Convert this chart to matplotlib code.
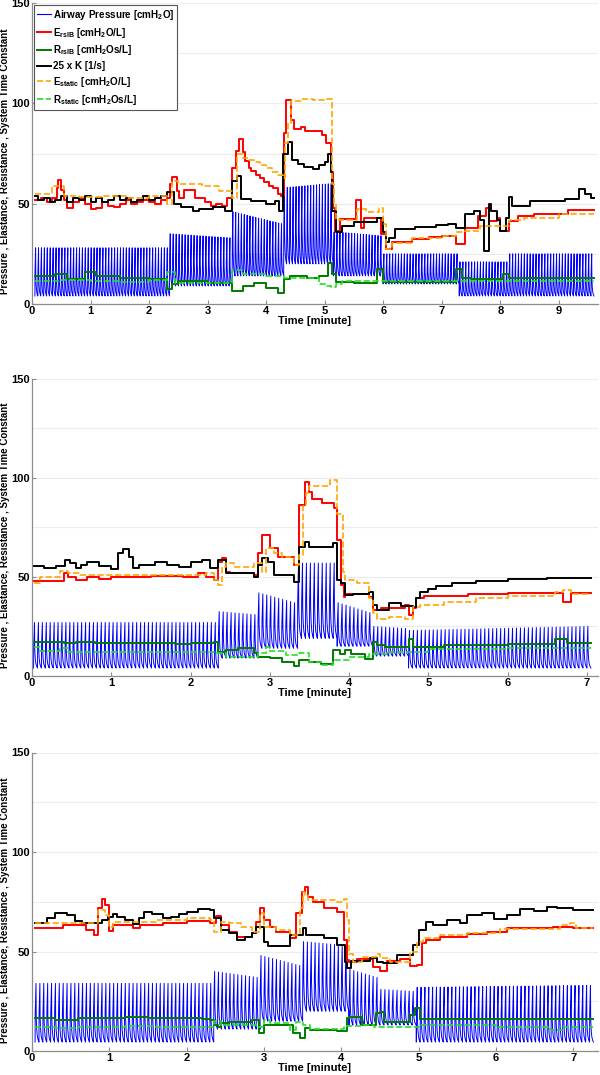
import numpy as np
import matplotlib
matplotlib.use("Agg")
import matplotlib.pyplot as plt
from matplotlib.lines import Line2D

# ---- data (time [min], value) ----
# step series are drawn with steps-post, the last point closes the trace

# panel 1
P1_E_RSIB = [(0.05, 52), (0.15, 53), (0.25, 51), (0.35, 53), (0.42, 58), (0.45, 62), (0.5, 57), (0.55, 52),
             (0.6, 48), (0.7, 51), (0.8, 53), (0.9, 50), (1.0, 47.5), (1.1, 48), (1.2, 51), (1.3, 49),
             (1.4, 48.5), (1.5, 50), (1.6, 52), (1.7, 50), (1.8, 51), (1.9, 52), (2.0, 51), (2.1, 50),
             (2.2, 52), (2.3, 53), (2.35, 60), (2.4, 63.5), (2.47, 56.5), (2.52, 53), (2.6, 57), (2.78, 53),
             (2.95, 51), (3.05, 49), (3.15, 50), (3.25, 49), (3.33, 53), (3.42, 68), (3.48, 76.5), (3.53, 82.3),
             (3.6, 76), (3.64, 71.5), (3.7, 68), (3.75, 66.5), (3.82, 64.5), (3.9, 63), (3.97, 61), (4.05, 59),
             (4.12, 58), (4.2, 55), (4.25, 54), (4.3, 85), (4.34, 101.8), (4.43, 91.5), (4.48, 87.4), (4.6, 88),
             (4.67, 86), (4.95, 84.2), (5.02, 80), (5.1, 66), (5.15, 48), (5.18, 36.5), (5.26, 42.5), (5.54, 52),
             (5.62, 38), (5.68, 43), (5.97, 35), (6.05, 27.5), (6.15, 30.7), (6.5, 32.5), (6.78, 33.5), (7.0, 34),
             (7.25, 30), (7.4, 38), (7.62, 44), (7.75, 47.8), (7.8, 41.5), (7.95, 43), (8.0, 36.5), (8.15, 41.5),
             (8.3, 44), (8.57, 45), (9.15, 47), (9.6, 47)]
P1_K25 = [(0.05, 54), (0.1, 52), (0.2, 53), (0.3, 51), (0.4, 52), (0.5, 54), (0.6, 51), (0.7, 53), (0.8, 52),
          (0.9, 54), (1.0, 51), (1.1, 53), (1.2, 51), (1.3, 52), (1.4, 54), (1.5, 52), (1.6, 53), (1.7, 51),
          (1.8, 52), (1.9, 54), (2.0, 52), (2.1, 53), (2.2, 54), (2.3, 55.7), (2.42, 50), (2.55, 48.3),
          (2.75, 46.5), (2.85, 47.5), (3.1, 48.3), (3.3, 46.5), (3.42, 61.5), (3.5, 64), (3.57, 52.5),
          (3.75, 51.5), (4.0, 49.8), (4.15, 51.5), (4.22, 46.5), (4.29, 75), (4.38, 80.7), (4.45, 72),
          (4.55, 70), (4.65, 68.5), (4.8, 67.5), (4.9, 69.5), (5.0, 71), (5.05, 75), (5.1, 66), (5.13, 46.5),
          (5.2, 36), (5.3, 39), (5.5, 40.7), (5.9, 43), (6.0, 35.7), (6.05, 30.8), (6.1, 33), (6.2, 37.5),
          (6.55, 38.5), (6.9, 39.5), (7.1, 40), (7.25, 38), (7.4, 45), (7.55, 46.5), (7.65, 42), (7.72, 26.5),
          (7.8, 50), (7.85, 46.5), (7.95, 42), (8.0, 36.5), (8.1, 43), (8.15, 53.5), (8.2, 49), (8.5, 51.5),
          (9.1, 52.5), (9.35, 57.5), (9.45, 55), (9.55, 53), (9.6, 53)]
P1_E_STATIC = [(0.05, 55), (0.35, 59), (0.55, 54), (0.8, 53.5), (1.2, 54), (1.6, 53), (2.0, 54), (2.3, 50),
               (2.4, 61.5), (2.5, 60), (2.9, 59), (3.2, 56.5), (3.42, 53), (3.5, 75), (3.6, 73), (3.7, 72),
               (3.8, 71), (3.9, 69.5), (4.0, 68), (4.1, 66), (4.2, 64.5), (4.28, 63), (4.32, 80), (4.38, 90),
               (4.43, 101), (4.6, 102), (4.8, 101.5), (5.0, 102), (5.12, 60), (5.16, 50), (5.2, 42), (5.55, 47.5),
               (5.7, 46), (5.93, 48), (6.0, 40), (6.05, 27.5), (6.15, 30.3), (6.5, 33), (7.0, 34), (7.25, 35.7),
               (7.4, 36.5), (7.65, 39), (8.15, 42), (8.4, 43), (9.0, 45), (9.6, 45)]
P1_R_RSIB = [(0.05, 14), (0.4, 15), (0.6, 12.5), (0.9, 15.8), (1.1, 14), (1.5, 13), (2.0, 12.5), (2.3, 7.3),
             (2.4, 10), (2.5, 11.5), (3.0, 10.7), (3.42, 6.5), (3.6, 9), (3.8, 10.7), (4.0, 8.2), (4.2, 5.7),
             (4.3, 12.3), (4.4, 13.9), (4.7, 13), (4.9, 14), (5.05, 20.6), (5.12, 15), (5.2, 11), (5.5, 10.5),
             (5.9, 17.5), (6.0, 11), (7.25, 17.5), (7.35, 13), (7.5, 12.5), (8.05, 15), (8.15, 12.8), (9.6, 12.8)]
P1_R_STATIC = [(0.05, 11.5), (0.5, 12), (1.0, 11.5), (1.5, 11), (2.0, 12), (2.3, 15.8), (2.45, 10.7),
               (3.42, 16.7), (3.6, 15), (4.0, 14), (4.3, 13), (4.9, 10), (5.0, 9), (5.1, 8.5), (5.2, 10),
               (5.3, 11.5), (9.6, 11.5)]
# airway pressure: (start, end, first peak, last peak, PEEP)
P1_PAW = [(0.05, 2.35, 28, 28, 4), (2.35, 3.42, 35, 33, 9), (3.42, 4.3, 46, 40, 14), (4.3, 5.15, 58, 60, 20),
          (5.15, 6.0, 36, 34, 14), (6.0, 7.3, 25, 25, 10), (7.3, 8.15, 21, 21, 4), (8.15, 9.6, 25, 25, 4)]

# panel 2
P2_E_RSIB = [(0.02, 48.2), (0.4, 51.8), (0.45, 50), (0.55, 48.5), (0.7, 50), (0.85, 48.8), (1.0, 49.9),
             (1.5, 50.5), (1.9, 50), (2.1, 51.8), (2.2, 50), (2.3, 48.5), (2.35, 57.7), (2.4, 59.4), (2.45, 52.7),
             (2.5, 51.8), (2.8, 51), (2.85, 62), (2.9, 71.2), (3.0, 64.4), (3.1, 60.2), (3.3, 56), (3.37, 86.4),
             (3.45, 98), (3.5, 93), (3.53, 89.6), (3.66, 87.5), (3.81, 84.6), (3.85, 68.7), (3.9, 46), (3.93, 40),
             (3.95, 41.4), (4.25, 40), (4.3, 33.3), (4.4, 34.2), (4.7, 35.8), (4.75, 30.8), (4.8, 34.2),
             (4.85, 39.2), (4.95, 40.4), (5.5, 41.4), (6.0, 41.7), (6.7, 37.5), (6.8, 41.7), (7.05, 41.7)]
P2_K25 = [(0.02, 55.6), (0.15, 54.3), (0.3, 55.6), (0.42, 58.6), (0.48, 57), (0.55, 54.3), (0.62, 56),
          (0.7, 57.3), (0.85, 55.6), (1.0, 53.9), (1.08, 62), (1.15, 64), (1.22, 60.2), (1.28, 54.3), (1.35, 56),
          (1.55, 57.3), (1.7, 56), (1.85, 55.2), (2.0, 57.3), (2.15, 58.6), (2.25, 54.3), (2.35, 58.6),
          (2.45, 51.8), (2.8, 50), (2.85, 56), (2.9, 59.4), (2.98, 57.7), (3.05, 51), (3.3, 47.6), (3.37, 65.3),
          (3.44, 67.8), (3.5, 65), (3.8, 67), (3.85, 48.5), (3.9, 46.8), (3.95, 41), (4.05, 41.4), (4.25, 42.6),
          (4.3, 35.8), (4.35, 33.3), (4.5, 36.7), (4.65, 35.3), (4.8, 35), (4.85, 39.2), (4.9, 42.6),
          (5.0, 43.7), (5.1, 45.4), (5.3, 46.8), (5.6, 48.2), (6.0, 48.8), (6.5, 49.5), (7.05, 49.5)]
P2_E_STATIC = [(0.02, 46.8), (0.1, 50), (0.35, 53.2), (0.45, 51.8), (0.6, 51), (2.2, 51.8), (2.3, 48.5),
               (2.35, 46), (2.4, 55.2), (2.45, 57), (2.55, 55.2), (2.8, 57), (2.9, 52.7), (2.95, 64.4),
               (3.05, 62), (3.15, 60.2), (3.3, 56), (3.37, 61), (3.42, 85.6), (3.46, 92.4), (3.5, 95.7),
               (3.76, 99), (3.85, 82), (3.92, 52.7), (3.95, 48.5), (4.1, 46.8), (4.25, 39.2), (4.3, 31.6),
               (4.35, 29), (4.5, 30), (4.7, 28.6), (4.8, 35), (4.9, 35.8), (5.2, 37.5), (5.6, 39.2), (6.0, 40.4),
               (6.6, 42.6), (6.7, 43.4), (6.8, 41.4), (7.05, 41.4)]
P2_R_RSIB = [(0.02, 17.3), (0.4, 16.5), (0.55, 17.3), (0.8, 16.8), (1.8, 16.2), (2.0, 16.8), (2.3, 17.3),
             (2.35, 12.3), (2.45, 13), (2.6, 14), (2.8, 11.5), (2.85, 9.8), (3.0, 9), (3.15, 7.3), (3.3, 4.8),
             (3.37, 8), (3.5, 7), (3.65, 6), (3.8, 13), (3.88, 11.3), (3.95, 13), (4.03, 11.3), (4.2, 8.8),
             (4.3, 17.3), (4.35, 15.6), (4.45, 14.7), (4.75, 18.9), (4.8, 14.7), (5.2, 15.6), (6.0, 16.2),
             (6.6, 18.9), (6.75, 16.4), (6.85, 16.8), (7.05, 16.8)]
P2_R_STATIC = [(0.02, 14.7), (0.1, 12.7), (0.35, 14), (0.45, 11.9), (0.6, 12.3), (2.3, 11.5), (2.45, 9.8),
               (2.85, 11.5), (2.95, 14.7), (3.0, 12.7), (3.2, 10.6), (3.37, 11.5), (3.5, 7), (3.65, 5.6),
               (3.8, 8.1), (4.0, 9.8), (4.25, 11.1), (4.5, 12.3), (5.0, 13.5), (6.0, 14), (7.05, 14)]
P2_PAW = [(0.02, 2.35, 27, 27, 4), (2.35, 2.85, 32.5, 31, 9), (2.85, 3.35, 42, 37, 14), (3.35, 3.85, 57, 57, 19),
          (3.85, 4.3, 37, 32, 15), (4.3, 4.75, 25, 24, 10), (4.75, 7.05, 23, 25, 4)]

# panel 3
P3_E_RSIB = [(0.04, 61.6), (0.4, 63.3), (0.7, 60.8), (0.8, 58.3), (0.85, 72), (0.9, 76.6), (0.95, 73.3),
             (1.0, 60.5), (1.05, 63.3), (1.3, 61.6), (1.4, 63.3), (1.7, 64.5), (2.0, 65.3), (2.3, 64.2),
             (2.38, 67.9), (2.45, 63.3), (2.55, 60), (2.65, 57.5), (2.85, 59.2), (2.9, 65), (2.95, 71.7),
             (3.0, 65.8), (3.08, 62.4), (3.16, 60), (3.34, 56.6), (3.42, 69.2), (3.49, 80), (3.53, 82.6),
             (3.57, 77.5), (3.64, 75), (3.77, 71.7), (3.94, 70), (4.03, 55.8), (4.07, 45.6), (4.1, 44.7),
             (4.2, 46.4), (4.41, 42.2), (4.5, 40.4), (4.59, 45.4), (4.76, 46.1), (4.89, 42.5), (4.98, 43.3),
             (5.04, 54.2), (5.1, 55.8), (5.28, 57.5), (5.62, 58.8), (5.88, 60), (6.14, 61.6), (6.74, 62.2),
             (7.0, 61.6), (7.26, 61.6)]
P3_K25 = [(0.04, 64.2), (0.19, 66.7), (0.3, 69.5), (0.45, 68.3), (0.55, 65.5), (0.65, 64.2), (0.9, 65.8),
          (0.98, 67.5), (1.05, 68.7), (1.1, 67.5), (1.2, 65.8), (1.3, 63.8), (1.38, 66.7), (1.45, 70),
          (1.55, 68.8), (1.7, 66.7), (1.8, 67.2), (1.9, 68.8), (2.0, 70), (2.15, 71.2), (2.3, 70.8),
          (2.35, 66.7), (2.45, 60.8), (2.55, 59.2), (2.65, 55.8), (2.75, 57.5), (2.85, 59.2), (2.9, 62.5),
          (3.0, 55), (3.05, 52.7), (3.34, 58.3), (3.5, 62), (3.55, 58.3), (3.77, 56.6), (3.95, 53.2),
          (4.05, 44.7), (4.08, 41.6), (4.12, 45.4), (4.37, 46.6), (4.46, 44.9), (4.54, 44.1), (4.72, 48.2),
          (4.93, 53.2), (5.0, 60.8), (5.1, 64.9), (5.19, 63.3), (5.37, 65.8), (5.54, 64.2), (5.62, 68.3),
          (5.82, 69.5), (5.97, 66.2), (6.14, 68.3), (6.31, 71.2), (6.49, 70.5), (6.66, 72.5), (6.79, 71.7),
          (7.0, 70.8), (7.26, 70.8)]
P3_E_STATIC = [(0.04, 64.5), (0.2, 64.2), (0.85, 70.8), (0.95, 68.3), (1.0, 62.5), (1.05, 65), (1.6, 65.8),
               (2.0, 66.7), (2.3, 65.8), (2.35, 60), (2.45, 65), (2.55, 64.2), (2.7, 62.5), (2.85, 60),
               (2.95, 69.2), (3.0, 62.4), (3.16, 60.8), (3.34, 58.3), (3.47, 71.7), (3.5, 80), (3.53, 78.3),
               (3.57, 75.8), (3.94, 75), (4.03, 76.2), (4.07, 65.8), (4.1, 49), (4.15, 44.7), (4.27, 47.2),
               (4.45, 49), (4.5, 46.6), (4.63, 44.9), (4.89, 49.9), (4.98, 54.9), (5.06, 56.6), (5.28, 58.3),
               (5.62, 59.5), (6.05, 61.2), (6.83, 63.3), (6.96, 64.5), (7.04, 62), (7.26, 62)]
P3_R_RSIB = [(0.04, 16.4), (0.3, 15.6), (0.6, 16.8), (1.2, 17.3), (1.5, 16.4), (2.2, 15.9), (2.3, 15.6),
             (2.35, 13.1), (2.4, 12.2), (2.45, 13.9), (2.55, 14.7), (2.85, 15.6), (2.93, 8.9), (3.0, 13.1),
             (3.38, 8.9), (3.47, 6.4), (3.53, 11.4), (3.6, 10.6), (3.94, 10.2), (4.07, 16.4), (4.1, 17.3),
             (4.27, 13.1), (4.45, 19.3), (4.5, 19.7), (4.55, 14.7), (4.89, 18.1), (4.95, 21.4), (5.02, 15.9),
             (5.06, 16.2), (7.26, 16.2)]
P3_R_STATIC = [(0.04, 12.2), (0.3, 11.4), (0.6, 11.9), (1.2, 12.6), (1.6, 11.9), (2.35, 15.2), (2.45, 13.1),
               (2.9, 12.2), (3.0, 15.5), (3.08, 13.9), (3.34, 10.6), (3.42, 14.7), (3.5, 13.1), (3.6, 11),
               (4.03, 12.6), (4.27, 13.1), (4.42, 12.2), (5.0, 13.1), (6.0, 11.9), (6.7, 10.6), (6.85, 12.2),
               (7.26, 12.2)]
P3_PAW = [(0.04, 2.35, 34, 34, 4.5), (2.35, 2.95, 40, 37, 11), (2.95, 3.5, 48, 43, 15), (3.5, 4.1, 55, 53, 20),
          (4.1, 4.5, 41, 37, 13), (4.5, 4.97, 31, 30, 13), (4.97, 7.26, 32, 33, 4.5)]

BREATHS_PER_MIN = [20, 20, 20]
X_LIMITS = [9.67, 7.14, 7.32]
X_TICKS = [range(0, 10), range(0, 8), range(0, 8)]
# one breath: time fraction of the cycle and fraction of (peak - PEEP)
BREATH_T = [0.0, 0.04, 0.24, 0.3, 0.42, 0.58, 0.78, 1.0]
BREATH_A = [0.0, 0.5, 1.0, 0.42, 0.22, 0.1, 0.04, 0.0]

LABELS = ['Airway Pressure [cmH$_2$O]', 'E$_{rsIB}$ [cmH$_2$O/L]', 'R$_{rsIB}$ [cmH$_2$Os/L]',
          '25 x K [1/s]', 'E$_{static}$ [cmH$_2$O/L]', 'R$_{static}$ [cmH$_2$Os/L]']

plt.rcParams['font.family'] = ['Liberation Sans', 'DejaVu Sans']
plt.rcParams['font.weight'] = 'bold'
plt.rcParams['mathtext.fontset'] = 'custom'
plt.rcParams['mathtext.rm'] = 'Liberation Sans:bold'
plt.rcParams['mathtext.it'] = 'Liberation Sans:bold'
plt.rcParams['mathtext.bf'] = 'Liberation Sans:bold'


def pressure_trace(segments, rate):
    """Build the airway pressure waveform breath by breath."""
    t_all, p_all = [], []
    for t0, t1, pk0, pk1, peep in segments:
        n = max(1, int(round((t1 - t0) * rate)))
        dur = (t1 - t0) / n
        for k in range(n):
            pk = pk0 + (pk1 - pk0) * k / max(n - 1, 1)
            start = t0 + k * dur
            t_all += [start + f * dur for f in BREATH_T]
            p_all += [peep + a * (pk - peep) for a in BREATH_A]
    return np.array(t_all), np.array(p_all)


def draw_panel(ax, paw, e_rsib, r_rsib, k25, e_static, r_static, rate, xmax, xticks):
    t, p = pressure_trace(paw, rate)
    ax.plot(t, p, color='#0000ff', lw=0.7)

    styles = [(e_rsib, '#ff0000', '-', 1.4), (r_rsib, '#007a00', '-', 1.4), (k25, 'black', '-', 1.4),
              (e_static, '#ffa500', '--', 1.2), (r_static, '#22e022', '--', 1.2)]
    for series, col, ls, lw in styles:
        ts, vs = zip(*series)
        ax.plot(ts, vs, drawstyle='steps-post', color=col, ls=ls, lw=lw)

    ax.set_xlim(0, xmax)
    ax.set_ylim(0, 150)
    ax.set_xticks(list(xticks))
    ax.set_yticks([0, 50, 100, 150])
    ax.set_yticks([25, 75, 125], minor=True)
    ax.grid(True, axis='y', which='both', color='#ececec', lw=0.8)
    ax.set_axisbelow(True)
    for s in ['top', 'right']:
        ax.spines[s].set_visible(False)
    for s in ['left', 'bottom']:
        ax.spines[s].set_color('#8c8c8c')
        ax.spines[s].set_linewidth(0.9)
    ax.tick_params(axis='both', which='major', direction='in', length=3, color='#8c8c8c',
                   labelsize=8, pad=1.5)
    ax.tick_params(axis='y', which='minor', length=0)
    ax.set_xlabel('Time [minute]', fontsize=8, fontweight='bold', labelpad=0)
    ax.set_ylabel('Pressure , Elastance, Resistance , System Time Constant', fontsize=7.0,
                  fontweight='bold')
    ax.yaxis.set_label_coords(-0.039, 0.473)


fig = plt.figure(figsize=(6, 10.75), dpi=100, facecolor='white')
rects = [[0.0533, 0.7172, 0.9434, 0.28], [0.0533, 0.3712, 0.9434, 0.2763], [0.0533, 0.0223, 0.9434, 0.2777]]
panels = [(P1_PAW, P1_E_RSIB, P1_R_RSIB, P1_K25, P1_E_STATIC, P1_R_STATIC),
          (P2_PAW, P2_E_RSIB, P2_R_RSIB, P2_K25, P2_E_STATIC, P2_R_STATIC),
          (P3_PAW, P3_E_RSIB, P3_R_RSIB, P3_K25, P3_E_STATIC, P3_R_STATIC)]

axes = []
for i, rect in enumerate(rects):
    ax = fig.add_axes(rect)
    draw_panel(ax, *panels[i], BREATHS_PER_MIN[i], X_LIMITS[i], X_TICKS[i])
    axes.append(ax)

# legend only on the first panel
handles = [Line2D([], [], color='#0000ff', lw=0.8),
           Line2D([], [], color='#ff0000', lw=1.4),
           Line2D([], [], color='#007a00', lw=1.4),
           Line2D([], [], color='black', lw=1.4),
           Line2D([], [], color='#ffa500', lw=1.2, ls='--'),
           Line2D([], [], color='#22e022', lw=1.2, ls='--')]
leg = axes[0].legend(handles, LABELS, loc='upper left', fontsize=7.1, handlelength=1.4,
                     handletextpad=0.2, labelspacing=0.38, borderpad=0.3, borderaxespad=0.2,
                     fancybox=False, framealpha=1)
leg.get_frame().set_edgecolor('#555555')
leg.get_frame().set_linewidth(0.8)

fig.savefig('out.png', dpi=100, facecolor='white')
